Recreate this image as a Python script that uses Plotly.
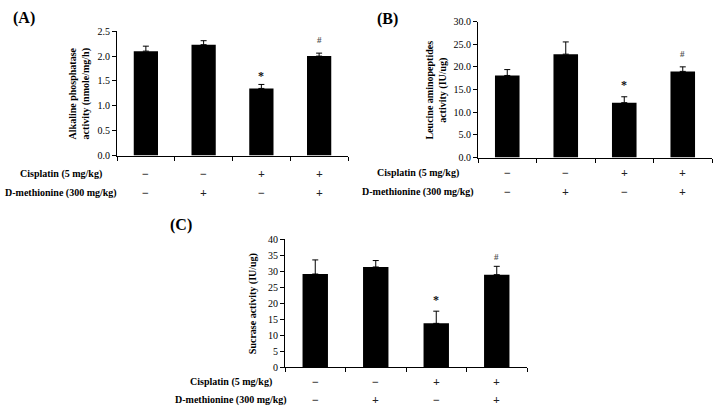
import plotly.graph_objects as go

groups = [0, 1, 2, 3]
cisplatin = ["−", "−", "+", "+"]
dmet = ["−", "+", "−", "+"]

alp_vals = [2.10, 2.23, 1.35, 2.00]
alp_err = [0.10, 0.08, 0.08, 0.06]
lap_vals = [18.1, 22.8, 12.1, 19.0]
lap_err = [1.3, 2.7, 1.3, 1.0]
suc_vals = [29.1, 31.3, 13.7, 28.9]
suc_err = [4.4, 2.0, 3.8, 2.6]

sig_marks = ["", "", "*", "#"]

W, H = 720, 416
FONT = "Liberation Serif"

panels = [
    dict(name="(A)", vals=alp_vals, err=alp_err, x0=117, x1=348, ytop=26, ybot=154,
         ymax=2.5, dtick=0.5, fmt=".1f", title="Alkaline phosphatase<br>activity (nmole/mg/h)",
         title_x=79, lab_x=61, row1=173, row2=193, plab=(24, 12), sig_off=[0, 0, 0.17, 0.27]),
    dict(name="(B)", vals=lap_vals, err=lap_err, x0=478, x1=712, ytop=16, ybot=156,
         ymax=30, dtick=5, fmt=".1f", title="Leucine aminopeptides<br>activity (IU/ug)",
         title_x=437, lab_x=418, row1=172, row2=192, plab=(387, 13), sig_off=[0, 0, 2.5, 2.8]),
    dict(name="(C)", vals=suc_vals, err=suc_err, x0=285, x1=527, ytop=240, ybot=372,
         ymax=40, dtick=5, fmt="d", title="Sucrase activity (IU/ug)",
         title_x=253, lab_x=231, row1=387, row2=406, plab=(181, 225), sig_off=[0, 0, 3.5, 3.0]),
]


def ann(**kw):
    d = dict(showarrow=False, xanchor="center", yanchor="middle")
    d.update(kw)
    return d


fig = go.Figure()
annotations = []
layout = {}
for i, p in enumerate(panels):
    sfx = "" if i == 0 else str(i + 1)
    xa, ya = "x" + sfx, "y" + sfx
    fig.add_trace(go.Bar(
        x=groups, y=p["vals"], width=0.42, marker=dict(color="black", line=dict(width=0)),
        error_y=dict(type="data", symmetric=False, array=p["err"], arrayminus=[0] * 4,
                     color="black", thickness=1, width=3),
        xaxis=xa, yaxis=ya, showlegend=False, hoverinfo="skip"))
    layout["xaxis" + sfx] = dict(
        domain=[p["x0"] / W, p["x1"] / W], range=[-0.5, 3.5], showline=True, linecolor="black",
        linewidth=1, ticks="outside", ticklen=4, tickcolor="black",
        tickvals=[-0.5, 0.5, 1.5, 2.5, 3.5], showticklabels=False, showgrid=False,
        zeroline=False, anchor=ya, fixedrange=True)
    layout["yaxis" + sfx] = dict(
        domain=[1 - p["ybot"] / H, 1 - p["ytop"] / H], range=[0, p["ymax"]], dtick=p["dtick"],
        tickformat=p["fmt"], showline=True, linecolor="black", linewidth=1, ticks="outside",
        ticklen=4, tickcolor="black", showgrid=False, zeroline=False, anchor=xa,
        tickfont=dict(family=FONT, size=10, color="black"), fixedrange=True)
    annotations.append(ann(text="<b>" + p["name"] + "</b>", x=p["plab"][0] / W, y=1 - p["plab"][1] / H,
                           xref="paper", yref="paper",
                           font=dict(family=FONT, size=16, color="black")))
    annotations.append(ann(text="<b>" + p["title"] + "</b>", x=p["title_x"] / W,
                           y=1 - (p["ytop"] + p["ybot"]) / 2 / H, xref="paper", yref="paper",
                           textangle=-90, font=dict(family=FONT, size=10, color="black")))
    annotations.append(ann(text="<b>Cisplatin (5 mg/kg)</b>", x=p["lab_x"] / W, y=1 - p["row1"] / H,
                           xref="paper", yref="paper",
                           font=dict(family=FONT, size=10, color="black")))
    annotations.append(ann(text="<b>D-methionine (300 mg/kg)</b>", x=p["lab_x"] / W, y=1 - p["row2"] / H,
                           xref="paper", yref="paper",
                           font=dict(family=FONT, size=10, color="black")))
    for g in groups:
        annotations.append(ann(text="<b>" + cisplatin[g] + "</b>", x=g, xref=xa, y=1 - p["row1"] / H,
                               yref="paper", font=dict(family=FONT, size=12, color="#222")))
        annotations.append(ann(text="<b>" + dmet[g] + "</b>", x=g, xref=xa, y=1 - p["row2"] / H,
                               yref="paper", font=dict(family=FONT, size=12, color="#222")))
        if sig_marks[g]:
            annotations.append(ann(text="<b>" + sig_marks[g] + "</b>", x=g, xref=xa,
                                   y=p["vals"][g] + p["err"][g] + p["sig_off"][g], yref=ya,
                                   font=dict(family=FONT, size=12 if g == 2 else 9,
                                             color="#111" if g == 2 else "#555")))

fig.update_layout(**layout)
fig.update_layout(width=W, height=H, margin=dict(l=0, r=0, t=0, b=0),
                  paper_bgcolor="white", plot_bgcolor="white", annotations=annotations,
                  font=dict(family=FONT, color="black"))
fig.write_html("out.html", config={"displayModeBar": False},
               post_script="document.body.style.margin='0';document.body.style.padding='0';")
